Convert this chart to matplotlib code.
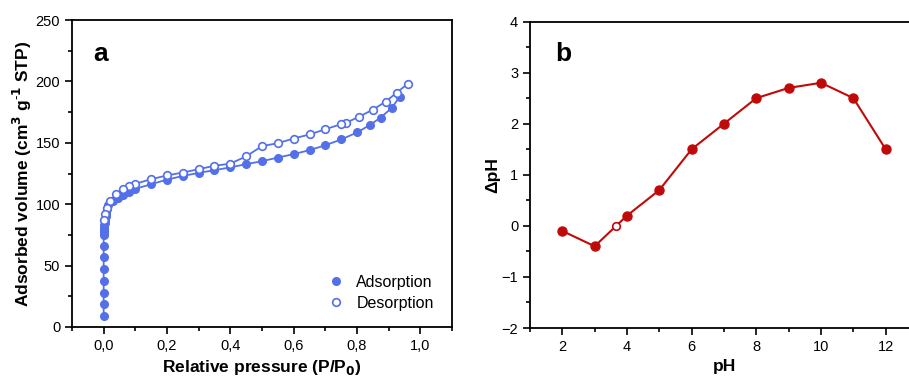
import numpy as np
import matplotlib
matplotlib.use('Agg')
import matplotlib.pyplot as plt
from matplotlib.ticker import MultipleLocator, FuncFormatter

plt.rcParams['font.family'] = ['Liberation Sans', 'DejaVu Sans']
plt.rcParams['axes.unicode_minus'] = True

# isotherm data
ads_p = [0.0, 0.0, 0.0, 0.0, 0.0, 0.0, 0.0, 0.0, 0.0005, 0.001, 0.0015, 0.002,
         0.003, 0.004, 0.006, 0.008, 0.011, 0.015, 0.03, 0.045, 0.06, 0.08, 0.1,
         0.15, 0.2, 0.25, 0.3, 0.35, 0.4, 0.45, 0.5, 0.55, 0.6, 0.65, 0.7, 0.75,
         0.8, 0.84, 0.875, 0.91, 0.935]
ads_v = [8.7, 18.5, 28, 37.5, 47.3, 56.8, 66, 75.3, 77, 79, 81, 83,
         85, 87.5, 90, 93, 96, 99, 102.5, 105, 107.5, 110, 112.5,
         116.3, 120, 123, 125.5, 127.7, 130, 132.6, 135, 138, 140.8, 144, 148, 152.7,
         158.4, 164.4, 170.6, 178.5, 187.5]
des_p = [0.96, 0.925, 0.89, 0.85, 0.805, 0.765, 0.75, 0.7, 0.65, 0.6, 0.55,
         0.5, 0.45, 0.4, 0.35, 0.3, 0.25, 0.2, 0.15, 0.1, 0.08, 0.06, 0.04,
         0.02, 0.01, 0.005, 0.002]
des_v = [198, 190.8, 183.4, 177, 171, 166.3, 165.2, 161, 156.8, 153.5, 149.7,
         147.3, 139, 133, 131.3, 128.5, 125.8, 123.4, 120.4, 116.6, 114.7, 112, 108.4,
         102.2, 97, 92, 87.2]

# pH drift data
ph = [2, 3, 4, 5, 6, 7, 8, 9, 10, 11, 12]
dph = [-0.1, -0.4, 0.2, 0.7, 1.5, 2.0, 2.5, 2.7, 2.8, 2.5, 1.5]
pzc_ph = [3.65]
pzc_dph = [0.0]

blue = '#5470E8'
red = '#C00A0A'

W, H = 909, 384
fig = plt.figure(figsize=(W / 100, H / 100), dpi=100)
ax1 = fig.add_axes([72 / W, (H - 327) / H, 380 / W, 307 / H])
ax2 = fig.add_axes([530 / W, (H - 328) / H, 388 / W, 306.5 / H])

def style(ax):
    for s in ax.spines.values():
        s.set_linewidth(1.3)
    ax.tick_params(which='both', direction='out', top=False, right=False,
                   labelsize=10.5, width=1.2)
    ax.tick_params(which='major', length=5)
    ax.tick_params(which='minor', length=3)

# panel a
ax1.plot(ads_p, ads_v, '-o', color=blue, mfc=blue, mec=blue, ms=5.5, lw=1.3,
         label='Adsorption')
ax1.plot(des_p, des_v, '-o', color=blue, mfc='white', mec=blue, ms=5.5, mew=1.2,
         lw=1.3, label='Desorption')
ax1.set_xlim(-0.1, 1.1)
ax1.set_ylim(0, 250)
ax1.xaxis.set_major_locator(MultipleLocator(0.2))
ax1.xaxis.set_minor_locator(MultipleLocator(0.1))
ax1.yaxis.set_major_locator(MultipleLocator(50))
ax1.yaxis.set_minor_locator(MultipleLocator(25))
ax1.xaxis.set_major_formatter(FuncFormatter(lambda v, p: ('%.1f' % v).replace('.', ',')))
style(ax1)
ax1.set_xlabel('Relative pressure (P/P$_\\mathbf{0}$)', fontsize=12.5, fontweight='bold')
ax1.set_ylabel('Adsorbed volume (cm$^\\mathbf{3}$ g$^{\\text{-}\\mathbf{1}}$ STP)',
               fontsize=12.5, fontweight='bold', labelpad=1)
ax1.text(0.055, 0.89, 'a', transform=ax1.transAxes, fontsize=19, fontweight='bold',
         va='center')
leg = ax1.legend(loc='lower right', bbox_to_anchor=(0.99, 0.005), frameon=False,
                 fontsize=11.5, handlelength=1.0, handletextpad=0.8, labelspacing=0.4)
for h in leg.get_lines():
    h.set_linestyle('')

# panel b
ax2.plot(ph, dph, '-o', color=red, ms=6.5, lw=1.5)
ax2.plot(pzc_ph, pzc_dph, 'o', color=red, mfc='white', ms=5.5, mew=1.2)
ax2.set_xlim(1, 13)
ax2.set_ylim(-2, 4)
ax2.xaxis.set_major_locator(MultipleLocator(2))
ax2.xaxis.set_minor_locator(MultipleLocator(1))
ax2.yaxis.set_major_locator(MultipleLocator(1))
ax2.yaxis.set_minor_locator(MultipleLocator(0.5))
style(ax2)
ax2.set_xlabel('pH', fontsize=12.5, fontweight='bold')
ax2.set_ylabel('\u0394pH', fontsize=12.5, fontweight='bold', labelpad=1)
ax2.text(0.065, 0.895, 'b', transform=ax2.transAxes, fontsize=19, fontweight='bold',
         va='center')

fig.savefig('out.png', dpi=100)
